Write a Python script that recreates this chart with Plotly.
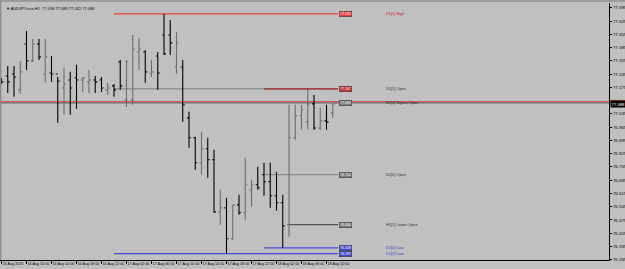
import plotly.graph_objects as go

# ---------------- data ----------------
symbol_title = "\u25bc AUDJPY.ecn,H1  77.038 77.089 77.032 77.088"

bar_index = list(range(54))  # H1 bars from 16 Aug 2016 06:00
bar_open = [77.214, 77.235, 77.246, 77.162, 77.404, 77.315, 77.404, 77.246, 77.251, 77.246,
            77.172, 77.214, 77.225, 77.214, 77.204, 77.214, 77.214, 77.162, 77.183, 77.309,
            77.109, 77.109, 77.362, 77.362, 77.251, 77.341, 77.452, 77.452, 77.283, 77.283,
            77.014, 76.909, 76.777, 76.851, 76.793, 76.518, 76.539, 76.376, 76.555, 76.513,
            76.634, 76.661, 76.714, 76.677, 76.603, 76.566, 76.450, 76.909, 77.025, 76.993,
            77.088, 76.961, 76.998, 77.041]
bar_high = [77.225, 77.288, 77.288, 77.315, 77.473, 77.431, 77.431, 77.431, 77.341, 77.230,
            77.278, 77.257, 77.294, 77.230, 77.267, 77.235, 77.230, 77.199, 77.193, 77.320,
            77.320, 77.452, 77.436, 77.373, 77.320, 77.362, 77.563, 77.531, 77.468, 77.320,
            77.046, 76.914, 76.940, 76.909, 76.846, 76.634, 76.592, 76.555, 76.608, 76.803,
            76.687, 76.756, 76.777, 76.777, 76.729, 76.608, 77.083, 77.083, 77.083, 77.167,
            77.135, 77.067, 77.083, 77.088]
bar_low = [77.193, 77.146, 77.125, 77.141, 77.267, 77.309, 77.320, 77.199, 77.204, 76.988,
           77.030, 77.030, 77.062, 77.151, 77.146, 77.146, 77.151, 77.135, 77.125, 77.162,
           77.072, 77.083, 77.267, 77.199, 77.230, 77.162, 77.346, 77.346, 77.246, 76.993,
           76.856, 76.740, 76.714, 76.698, 76.513, 76.450, 76.297, 76.370, 76.502, 76.476,
           76.545, 76.634, 76.603, 76.539, 76.524, 76.328, 76.386, 76.898, 76.951, 76.951,
           76.951, 76.951, 76.951, 77.014]
bar_close = [77.204, 77.204, 77.230, 77.257, 77.315, 77.404, 77.336, 77.336, 77.246, 77.209,
             77.193, 77.172, 77.214, 77.225, 77.214, 77.204, 77.172, 77.172, 77.162, 77.183,
             77.309, 77.378, 77.378, 77.257, 77.257, 77.251, 77.352, 77.410, 77.410, 77.083,
             76.909, 76.777, 76.851, 76.793, 76.518, 76.539, 76.376, 76.555, 76.513, 76.661,
             76.661, 76.645, 76.677, 76.603, 76.566, 76.444, 76.909, 77.025, 77.056, 77.088,
             76.961, 76.998, 76.993, 77.088]

x_tick_bars = [0, 4, 8, 12, 16, 20, 24, 28, 32, 36, 40, 44, 48, 52]
x_tick_labels = ["16 Aug 2016", "16 Aug 10:00", "16 Aug 14:00", "16 Aug 18:00", "16 Aug 22:00",
                 "17 Aug 02:00", "17 Aug 06:00", "17 Aug 10:00", "17 Aug 14:00", "17 Aug 18:00",
                 "17 Aug 22:00", "18 Aug 02:00", "18 Aug 06:00", "18 Aug 10:00"]

# 77.105 is hidden behind the current-price boxes in the reference
y_tick_values = [77.595, 77.525, 77.455, 77.385, 77.315, 77.245, 77.175, 77.035, 76.965,
                 76.895, 76.825, 76.755, 76.685, 76.615, 76.545, 76.475, 76.405, 76.335, 76.265]

level_names = ["D1[1] High", "D1[1] Open", "H1[3] Higher Open", "D1[0] Open",
               "H1[1] Lower Open", "D1[0] Low", "D1[1] Low"]
level_prices = [77.563, 77.167, 77.093, 76.714, 76.450, 76.328, 76.297]
level_start_bar = [18, 18, 0, 42, 46, 42, 18]

bid_price = 77.088
ask_price = 77.100

# ---------------- styles ----------------
BG = "#c0c0c0"
FONT = "Liberation Sans"
level_style = {
    "D1[1] High": dict(line="#ee3a3a", box="#ee3a3a", text="#d02020"),
    "D1[1] Open": dict(line="#8a8a8a", box="#c03030", text="#303030"),
    "H1[3] Higher Open": dict(line="#6a6a6a", box="#7a7a7a", text="#303030"),
    "D1[0] Open": dict(line="#8a8a8a", box="#7a7a7a", text="#303030"),
    "H1[1] Lower Open": dict(line="#505050", box="#7a7a7a", text="#303030"),
    "D1[0] Low": dict(line="#4848d8", box="#4848d8", text="#3838c8"),
    "D1[1] Low": dict(line="#4848d8", box="#4848d8", text="#3838c8"),
}
LINE_END = 53.84
BOX_X = 55.05
TEXT_X = 61.2

fig = go.Figure()

shapes = []
annotations = []

for name, price, start in zip(level_names, level_prices, level_start_bar):
    st = level_style[name]
    if start == 0:
        shapes.append(dict(type="line", xref="paper", yref="y", x0=0, x1=1, y0=price, y1=price,
                           line=dict(color=st["line"], width=1.2), layer="below"))
    else:
        shapes.append(dict(type="line", xref="x", yref="y", x0=start, x1=LINE_END, y0=price, y1=price,
                           line=dict(color=st["line"], width=1.2), layer="below"))
    if name == "D1[1] Open":
        shapes.append(dict(type="line", xref="x", yref="y", x0=42, x1=LINE_END, y0=price, y1=price,
                           line=dict(color="#a02828", width=1.2), layer="below"))
    annotations.append(dict(x=BOX_X, y=price, xref="x", yref="y", text=f"{price:.3f}",
                            showarrow=False, font=dict(family=FONT, size=3.6, color="white"),
                            bgcolor=st["box"], bordercolor="#303030", borderwidth=0.5, borderpad=0.6,
                            xanchor="center", yanchor="middle"))
    annotations.append(dict(x=TEXT_X, y=price, xref="x", yref="y", text=name,
                            showarrow=False, font=dict(family=FONT, size=3.9, color=st["text"]),
                            xanchor="left", yanchor="middle"))

# ask line (red, full width) and its red marker on the price scale
shapes.append(dict(type="line", xref="paper", yref="y", x0=0, x1=1, y0=ask_price, y1=ask_price,
                   line=dict(color="#e04848", width=1), layer="below"))
shapes.append(dict(type="rect", xref="paper", yref="y", x0=1.002, x1=1.026,
                   y0=ask_price - 0.004, y1=ask_price + 0.008,
                   line=dict(width=0), fillcolor="#e02020"))
# window frame
shapes.append(dict(type="line", xref="paper", yref="paper", x0=0.001, x1=0.001, y0=0, y1=1.02,
                   line=dict(color="#8c8c8c", width=1.5)))
shapes.append(dict(type="line", xref="paper", yref="paper", x0=0, x1=1.03, y0=1.008, y1=1.008,
                   line=dict(color="#9a9a9a", width=2)))

fig.add_trace(go.Ohlc(
    x=bar_index, open=bar_open, high=bar_high, low=bar_low, close=bar_close,
    increasing=dict(line=dict(color="#6c6c6c", width=1.1)),
    decreasing=dict(line=dict(color="#000000", width=1.1)),
    tickwidth=0.32, hoverinfo="skip", showlegend=False,
))

annotations.append(dict(x=1.0, y=bid_price, xref="paper", yref="y", text=f"{bid_price:.3f}",
                        showarrow=False, font=dict(family=FONT, size=4.2, color="white"),
                        bgcolor="#000000", borderpad=0.6, xanchor="left", yanchor="middle", xshift=1))
annotations.append(dict(x=0.007, y=0.998, xref="paper", yref="paper", text=symbol_title,
                        showarrow=False, font=dict(family=FONT, size=4, color="#000000"),
                        xanchor="left", yanchor="top"))

fig.update_layout(
    width=625, height=269,
    margin=dict(l=0, r=16, t=3, b=9, pad=0, autoexpand=False),
    paper_bgcolor=BG, plot_bgcolor=BG,
    showlegend=False,
    shapes=shapes, annotations=annotations,
    xaxis=dict(range=[-0.24, 97.2], tickvals=x_tick_bars, ticktext=x_tick_labels,
               tickangle=0, automargin=False,
               showgrid=False, zeroline=False, showline=True, linecolor="#000000", linewidth=1,
               ticks="outside", ticklen=3, tickcolor="#000000", tickwidth=1,
               ticklabelposition="outside right",
               tickfont=dict(family=FONT, size=3.7, color="#000000"),
               rangeslider=dict(visible=False), fixedrange=True),
    yaxis=dict(range=[76.2637, 77.6206], side="right", tickvals=y_tick_values,
               ticktext=[f"{v:.3f}" for v in y_tick_values], automargin=False,
               showgrid=False, zeroline=False, showline=True, linecolor="#000000", linewidth=1,
               ticks="outside", ticklen=2, tickcolor="#000000",
               tickfont=dict(family=FONT, size=4.4, color="#000000"), fixedrange=True),
)

fig.write_html("out.html", config={"displayModeBar": False})
